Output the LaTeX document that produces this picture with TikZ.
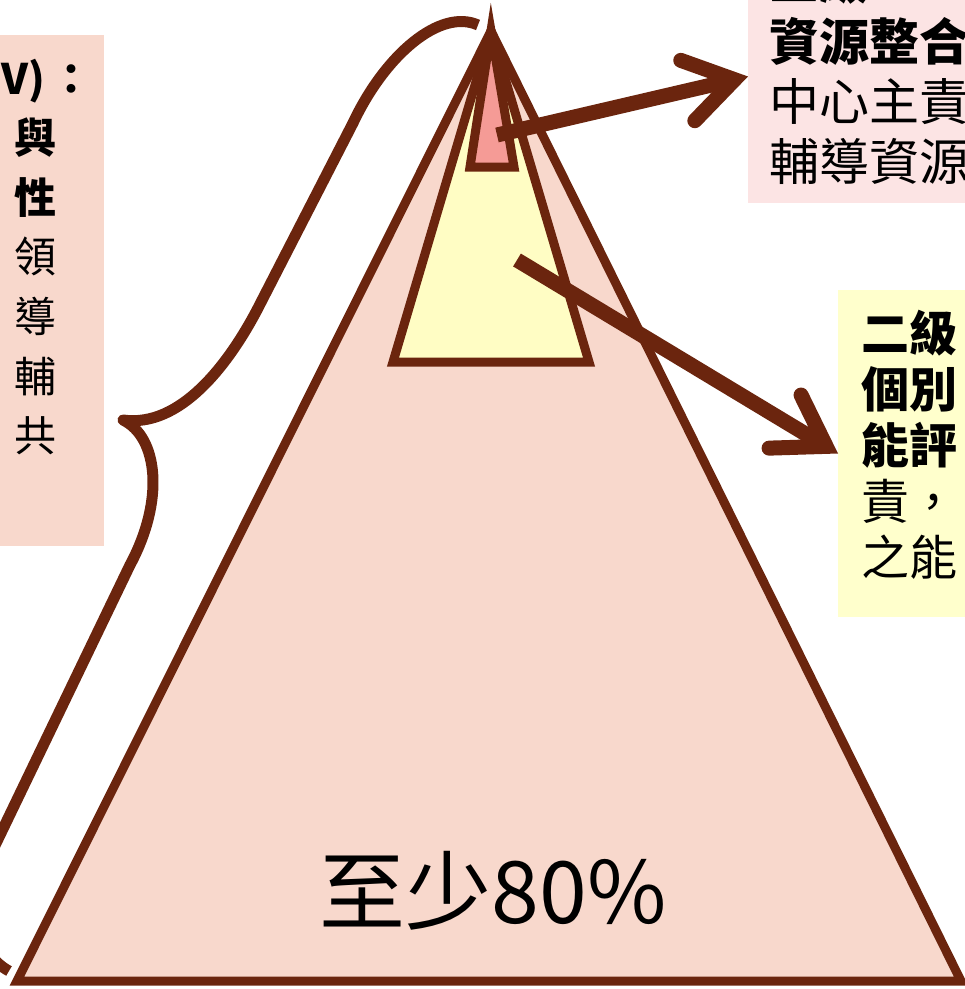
\documentclass[tikz,border=0pt]{standalone}
\usepackage{fontspec}
\usepackage{tikz}
\usetikzlibrary{arrows.meta,positioning}
\newfontfamily\cjk{Noto Sans CJK TC}
\definecolor{brownline}{RGB}{107,37,14}
\definecolor{pyrpink}{RGB}{248,216,204}
\definecolor{tipred}{RGB}{245,155,150}
\definecolor{midyellow}{RGB}{255,253,196}
\definecolor{boxrose}{RGB}{252,228,228}
\definecolor{boxyellow}{RGB}{255,255,204}

\begin{document}
\begin{tikzpicture}[
            x=1pt,y=-1pt,
            layer/.style={draw=brownline,line width=9pt,line join=miter},
            panel/.style={rectangle,inner sep=0pt,outer sep=0pt},
            ltxt/.style={anchor=base west,inner sep=0pt,font=\cjk\fontsize{42}{50}\selectfont},
            rtxt/.style={anchor=base west,inner sep=0pt,font=\cjk\fontsize{50}{58}\selectfont},
            itxt/.style={rtxt,font=\cjk\fontsize{48}{56}\selectfont},
            brace/.style={draw=brownline,line width=11pt,line join=round},
            pointer/.style={draw=brownline,line width=15pt,-{Straight Barb[length=48pt,width=62pt,line cap=round]}}
          ]
          \useasboundingbox (0,0) rectangle (965,989);

          %boxes
          \node[panel,fill=pyrpink,minimum width=140pt,minimum height=511pt,anchor=north east] (wbox) at (104,35) {};
          \node[panel,fill=boxrose,minimum width=260pt,minimum height=253pt,anchor=south west] (resbox) at (748,203) {};
          \node[panel,fill=boxyellow,minimum width=170pt,minimum height=327pt,anchor=north west] (indbox) at (838,290) {};

          %pyramid
          \coordinate (apex) at (491,31);
          \draw[layer,fill=pyrpink] (apex) -- (961,981) -- (17,981) -- cycle;
          \draw[layer,fill=midyellow] (apex) -- (589,362) -- (393,362) -- cycle;
          \draw[layer,fill=tipred] (apex) -- (514,167) -- (470,167) -- cycle;
          \node[inner sep=0pt,font=\cjk\fontsize{86}{90}\selectfont] (share) at (493,891) {至少80\%};

          %brace
          \draw[brace] (478,25) .. controls (440,8) and (385,55) .. (353,123) -- (257,310)
            .. controls (228,365) and (180,428) .. (123,420)
            .. controls (158,437) and (165,500) .. (130,565) -- (-12,860)
            .. controls (-32,900) and (-26,952) .. (9,971);

          %arrows
          \coordinate (redc) at (497,135);
          \coordinate (yelc) at (517,260);
          \draw[pointer] (redc) -- (resbox.west);
          \draw[pointer] (yelc) -- (indbox.west);

          %labels
          \node[ltxt] (w1) at (1,94) {\bfseries V)\kern6pt：};
          \foreach \txt [count=\i] in {{\bfseries 與},{\bfseries 性},領,導,輔,共}
            \node[ltxt] (w\i+1) at (14,{153.6+59.6*(\i-1)}) {\txt};
          \node[rtxt] (res0) at (769,-1) {\bfseries 三級};
          \foreach \txt [count=\i] in {{\bfseries 資源整合},中心主責,輔導資源}
            \node[rtxt] (res\i) at (769,{60*\i}) {\txt};
          \foreach \txt [count=\i] in {{\bfseries 二級},{\bfseries 個別},{\bfseries 能評},責，,之能}
            \node[itxt] (ind\i) at (861,{351+56*(\i-1)}) {\txt};

      \end{tikzpicture}
\end{document}
